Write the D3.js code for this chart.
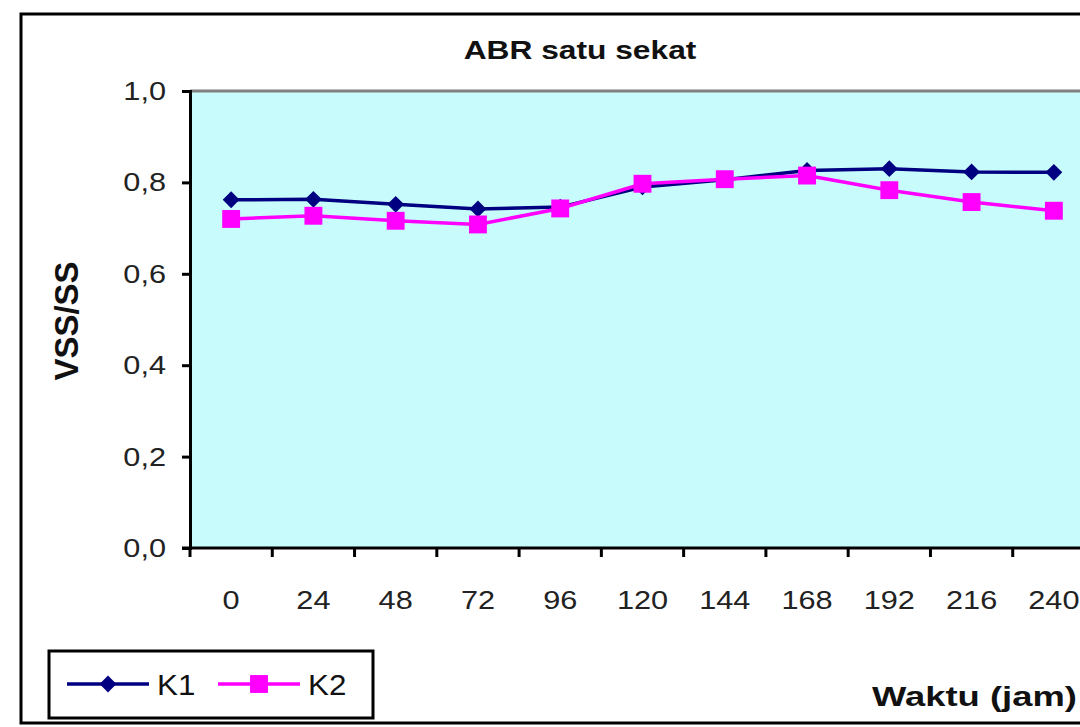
<!DOCTYPE html>
<html>
<head>
<meta charset="utf-8">
<script src="https://cdn.jsdelivr.net/npm/d3@7"></script>
<style>
  html, body { margin: 0; padding: 0; background: #fff; }
  svg { display: block; font-family: "Liberation Sans", Arial, sans-serif; }
</style>
</head>
<body>
<svg id="chart" width="1080" height="727"></svg>
<script>
// Hours of sampling and VSS/SS ratio for each compartment
const hours = ["0", "24", "48", "72", "96", "120", "144", "168", "192", "216", "240"];
const k1 = [0.762, 0.763, 0.752, 0.742, 0.746, 0.790, 0.806, 0.826, 0.830, 0.823, 0.822];
const k2 = [0.720, 0.727, 0.716, 0.708, 0.743, 0.797, 0.807, 0.815, 0.783, 0.757, 0.738];
const yTicks = [0, 0.2, 0.4, 0.6, 0.8, 1.0];
const seriesNames = ["K1", "K2"];

const series = [
  { name: seriesNames[0], values: k1, color: "#000080", symbol: d3.symbolDiamond2, size: 180 },
  { name: seriesNames[1], values: k2, color: "#FF00FF", symbol: d3.symbolSquare, size: 320 }
];

const svg = d3.select("#chart");

// Text drawn slightly widened, as in the original chart rendering
function label(parent, x, y, text, opts = {}) {
  const { size = 26, weight = "normal", anchor = "middle", sx = 1.2, rotate = 0, fill = "#222" } = opts;
  return parent.append("text")
    .attr("transform", `translate(${x},${y}) rotate(${rotate}) scale(${sx},1)`)
    .attr("text-anchor", anchor)
    .attr("font-size", size)
    .attr("font-weight", weight)
    .attr("fill", fill)
    .text(text);
}

// Outer chart frame (runs past the right edge)
svg.append("rect")
  .attr("x", 21).attr("y", 14).attr("width", 1100).attr("height", 709)
  .attr("fill", "#fff").attr("stroke", "#000").attr("stroke-width", 3);

const plot = { left: 190, right: 1095, top: 91, bottom: 548 };

const x = d3.scaleBand().domain(hours).range([plot.left, plot.right]).padding(0);
const y = d3.scaleLinear().domain([0, 1]).range([plot.bottom, plot.top]);
const cx = h => x(h) + x.bandwidth() / 2;

// Plot area
svg.append("rect")
  .attr("x", plot.left).attr("y", plot.top)
  .attr("width", plot.right - plot.left).attr("height", plot.bottom - plot.top)
  .attr("fill", "#C8FCFC");
svg.append("line")
  .attr("x1", plot.left).attr("x2", plot.right)
  .attr("y1", plot.top).attr("y2", plot.top)
  .attr("stroke", "#808080").attr("stroke-width", 3);

// Title
label(svg, 580, 59, "ABR satu sekat", { size: 26, weight: "bold", sx: 1.22, fill: "#111" });

// Y axis
const yAxis = svg.append("g")
  .attr("transform", `translate(${plot.left},0)`)
  .call(d3.axisLeft(y).tickValues(yTicks).tickSize(8).tickFormat(() => ""));
yAxis.select(".domain").attr("stroke", "#000").attr("stroke-width", 3);
yAxis.selectAll(".tick line").attr("stroke", "#000").attr("stroke-width", 3);
yTicks.forEach(t => {
  label(svg, 166, y(t) + 9, d3.format(".1f")(t).replace(".", ","), { size: 26, anchor: "end", sx: 1.18 });
});

// X axis: ticks on the band edges, labels in the band centres
const xAxis = svg.append("g").attr("transform", `translate(0,${plot.bottom})`);
xAxis.append("line")
  .attr("x1", plot.left - 8).attr("x2", plot.right)
  .attr("y1", 0).attr("y2", 0)
  .attr("stroke", "#000").attr("stroke-width", 3);
xAxis.selectAll("line.tick")
  .data(hours)
  .join("line").attr("class", "tick")
  .attr("x1", d => x(d)).attr("x2", d => x(d))
  .attr("y1", 0).attr("y2", 9)
  .attr("stroke", "#000").attr("stroke-width", 3);
hours.forEach(h => label(svg, cx(h), 609, h, { size: 26, sx: 1.18 }));

// Axis titles
label(svg, 78, 321, "VSS/SS", { size: 33, weight: "bold", rotate: -90, sx: 1, fill: "#111" });
label(svg, 872, 706, "Waktu (jam)", { size: 28, weight: "bold", anchor: "start", sx: 1.3, fill: "#111" });

// Series lines and markers
const line = d3.line()
  .x((d, i) => cx(hours[i]))
  .y(d => y(d));

series.forEach(s => {
  svg.append("path")
    .datum(s.values)
    .attr("d", line)
    .attr("fill", "none")
    .attr("stroke", s.color).attr("stroke-width", 3.5);
});
series.forEach(s => {
  svg.selectAll(null)
    .data(s.values)
    .join("path")
    .attr("transform", (d, i) => `translate(${cx(hours[i])},${y(d)})`)
    .attr("d", d3.symbol().type(s.symbol).size(s.size))
    .attr("fill", s.color);
});

// Legend
const legend = svg.append("g");
legend.append("rect")
  .attr("x", 49).attr("y", 651).attr("width", 324).attr("height", 67)
  .attr("fill", "#fff").attr("stroke", "#000").attr("stroke-width", 3);
const legendX = [67, 218];
series.forEach((s, i) => {
  const g = legend.append("g").attr("transform", `translate(${legendX[i]},684)`);
  g.append("line").attr("x1", 0).attr("x2", 82).attr("y1", 0).attr("y2", 0)
    .attr("stroke", s.color).attr("stroke-width", 3.5);
  g.append("path").attr("transform", "translate(41,0)")
    .attr("d", d3.symbol().type(s.symbol).size(s.size)).attr("fill", s.color);
  label(g, 90, 11, s.name, { size: 29, anchor: "start", sx: 1.08, fill: "#111" });
});
</script>
</body>
</html>
